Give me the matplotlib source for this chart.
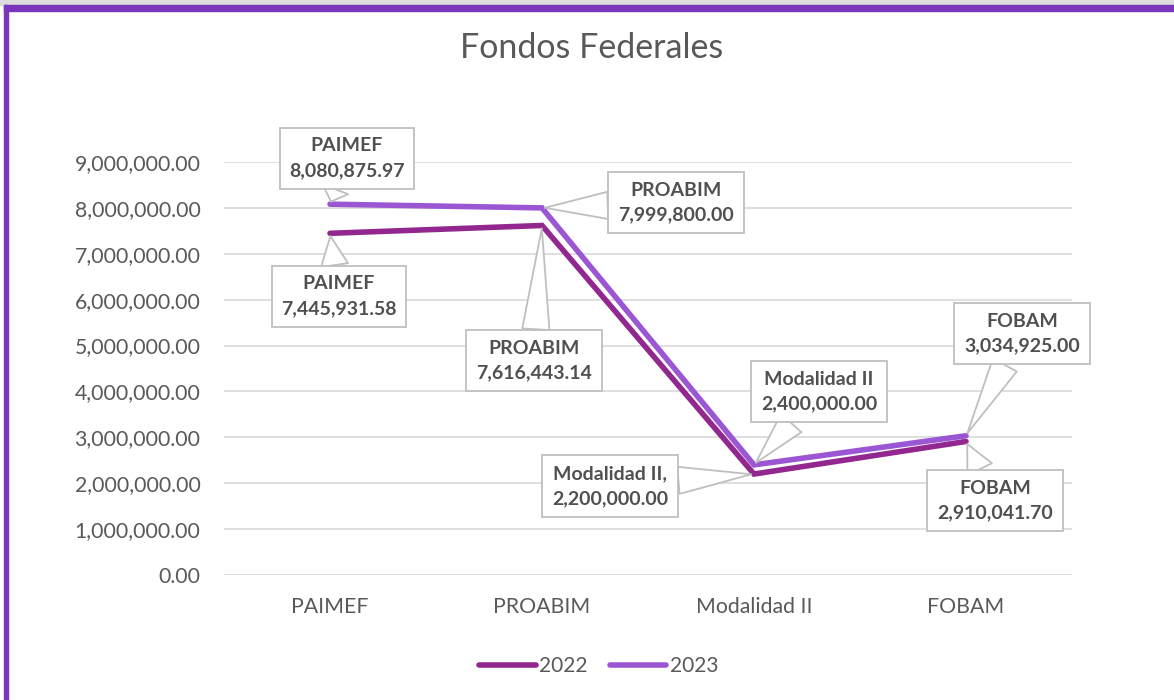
import matplotlib.pyplot as plt
from matplotlib.patches import Rectangle

plt.rcParams['font.family'] = ['Lato', 'DejaVu Sans']

categories = ['PAIMEF', 'PROABIM', 'Modalidad II', 'FOBAM']
values_2022 = [7445931.58, 7616443.14, 2200000.00, 2910041.70]
values_2023 = [8080875.97, 7999800.00, 2400000.00, 3034925.00]
seps_2022 = ['\n', '\n', ',\n', '\n']
seps_2023 = ['\n', '\n', '\n', '\n']
yticks = [0, 1000000, 2000000, 3000000, 4000000, 5000000,
          6000000, 7000000, 8000000, 9000000]

# label box offsets from the point, in pixels
offs_2022 = [(9, -63), (-8, -135), (-144, -12), (29, -59)]
offs_2023 = [(17, 46), (134, 5), (65, 73), (56, 102)]

c2022 = '#92278F'
c2023 = '#9B57D3'
txt = '#595959'

fig = plt.figure(figsize=(11.74, 7.0), dpi=100)
ax = fig.add_axes([224 / 1174, 1 - 575 / 700, 848 / 1174, 413 / 700])

x = range(len(categories))
ax.plot(x, values_2022, color=c2022, lw=4, label='2022', zorder=3,
        solid_capstyle='round', solid_joinstyle='miter')
ax.plot(x, values_2023, color=c2023, lw=4, label='2023', zorder=3,
        solid_capstyle='round', solid_joinstyle='miter')

ax.set_xlim(-0.5, len(categories) - 0.5)
ax.set_ylim(0, 9000000)
ax.set_yticks(yticks)
ax.set_yticklabels([f'{v:,.2f}' for v in yticks])
ax.set_xticks(list(x))
ax.set_xticklabels(categories)
ax.tick_params(length=0, labelsize=15.3, labelcolor=txt)
ax.tick_params(axis='y', pad=17)
ax.tick_params(axis='x', pad=16)
ax.grid(axis='y', color='#D9D9D9', lw=1.2)
ax.set_axisbelow(True)
for s in ax.spines.values():
    s.set_visible(False)


def callouts(vals, seps, offs):
    for i, v in enumerate(vals):
        ax.annotate(f'{categories[i]}{seps[i]}{v:,.2f}', xy=(i, v),
                    xytext=offs[i], textcoords='offset pixels',
                    ha='center', va='center', fontsize=14,
                    fontweight='bold', color='#505050', linespacing=1.55,
                    zorder=5,
                    bbox=dict(boxstyle='square,pad=0.5', fc='white',
                              ec='#BFBFBF', lw=1.3),
                    arrowprops=dict(arrowstyle='wedge,tail_width=1.4',
                                    fc='white', ec='#BFBFBF', lw=1.3,
                                    shrinkA=0, shrinkB=2))


callouts(values_2022, seps_2022, offs_2022)
callouts(values_2023, seps_2023, offs_2023)

fig.text(0.504, 1 - 48 / 700, 'Fondos Federales', ha='center', va='center',
         fontsize=24.5, color=txt)

ax.legend(loc='center', bbox_to_anchor=(0.51, 34 / 700),
          bbox_transform=fig.transFigure, ncol=2, frameon=False,
          fontsize=15, labelcolor=txt, handlelength=2.7,
          handletextpad=0.15, columnspacing=1.1)

# frame of the screenshot
fig.patches.append(Rectangle((0, 1 - 5 / 700), 1, 5 / 700,
                             transform=fig.transFigure, color='#DCDCDC'))
fig.patches.append(Rectangle((4 / 1174, 1 - 11 / 700), 1, 6 / 700,
                             transform=fig.transFigure, color='#7B35BC'))
fig.patches.append(Rectangle((4 / 1174, 0), 4 / 1174, 1 - 5 / 700,
                             transform=fig.transFigure, color='#7B35BC'))

fig.savefig('out.png', dpi=100)
